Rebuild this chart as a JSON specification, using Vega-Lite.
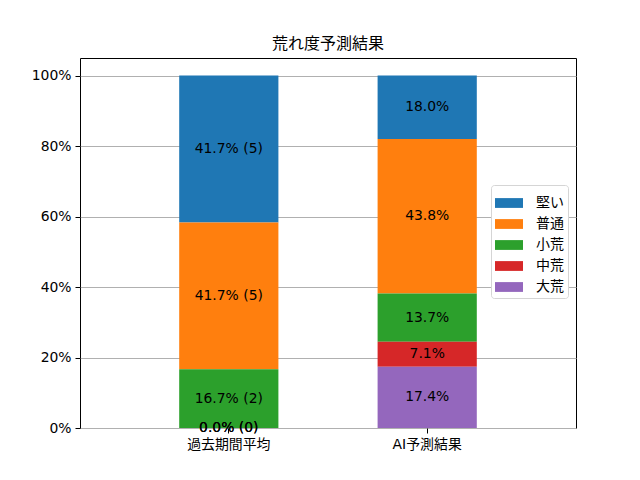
{
  "$schema": "https://vega.github.io/schema/vega-lite/v6.json",
  "width": 496,
  "height": 370,
  "autosize": "none",
  "padding": {"left": 80, "top": 58, "right": 64, "bottom": 52},
  "title": {
    "text": "荒れ度予測結果",
    "font": "Noto Sans CJK JP",
    "fontSize": 16,
    "fontWeight": "normal",
    "color": "black",
    "offset": 6
  },
  "data": {
    "values": [
      {"period": "過去期間平均", "level": "堅い", "rank": 5, "pct": 41.666, "label": "41.7% (5)"},
      {"period": "過去期間平均", "level": "普通", "rank": 4, "pct": 41.667, "label": "41.7% (5)"},
      {"period": "過去期間平均", "level": "小荒", "rank": 3, "pct": 16.667, "label": "16.7% (2)"},
      {"period": "過去期間平均", "level": "中荒", "rank": 2, "pct": 0, "label": "0.0% (0)"},
      {"period": "過去期間平均", "level": "大荒", "rank": 1, "pct": 0, "label": "0.0% (0)"},
      {"period": "AI予測結果", "level": "堅い", "rank": 5, "pct": 18.0, "label": "18.0%"},
      {"period": "AI予測結果", "level": "普通", "rank": 4, "pct": 43.8, "label": "43.8%"},
      {"period": "AI予測結果", "level": "小荒", "rank": 3, "pct": 13.7, "label": "13.7%"},
      {"period": "AI予測結果", "level": "中荒", "rank": 2, "pct": 7.1, "label": "7.1%"},
      {"period": "AI予測結果", "level": "大荒", "rank": 1, "pct": 17.4, "label": "17.4%"}
    ]
  },
  "encoding": {
    "x": {
      "field": "period",
      "type": "nominal",
      "sort": ["過去期間平均", "AI予測結果"],
      "scale": {"paddingInner": 0.5, "paddingOuter": 0.5},
      "axis": {"title": null, "labelAngle": 0, "grid": false}
    }
  },
  "layer": [
    {
      "mark": {"type": "bar"},
      "encoding": {
        "y": {
          "field": "pct",
          "type": "quantitative",
          "stack": "zero",
          "scale": {"domain": [0, 105], "nice": false},
          "axis": {
            "title": null,
            "values": [0, 20, 40, 60, 80, 100],
            "labelExpr": "datum.value + '%'",
            "grid": true
          }
        },
        "color": {
          "field": "level",
          "type": "nominal",
          "scale": {
            "domain": ["堅い", "普通", "小荒", "中荒", "大荒"],
            "range": ["#1f77b4", "#ff7f0e", "#2ca02c", "#d62728", "#9467bd"]
          },
          "legend": {
            "title": null,
            "orient": "none",
            "legendX": 411,
            "legendY": 127,
            "symbolType": "M-1,-0.35H1V0.35H-1Z",
            "symbolSize": 784,
            "symbolStrokeWidth": 0,
            "symbolOpacity": 1,
            "labelFont": "Noto Sans CJK JP",
            "labelFontSize": 14,
            "labelColor": "black",
            "labelOffset": 13,
            "rowPadding": -6,
            "padding": 4,
            "strokeColor": "#d5d5d5",
            "fillColor": "white",
            "cornerRadius": 3
          }
        },
        "order": {"field": "rank", "type": "quantitative"}
      }
    },
    {
      "transform": [
        {"stack": "pct", "groupby": ["period"], "sort": [{"field": "rank"}], "as": ["y0", "y1"]},
        {"calculate": "(datum.y0 + datum.y1) / 2", "as": "mid"}
      ],
      "mark": {"type": "text", "font": "DejaVu Sans, Noto Sans CJK JP", "fontSize": 13.9, "color": "black"},
      "encoding": {
        "y": {"field": "mid", "type": "quantitative"},
        "text": {"field": "label"}
      }
    }
  ],
  "config": {
    "view": {"stroke": "black", "strokeWidth": 1},
    "axis": {
      "domain": false,
      "labelFont": "DejaVu Sans, Noto Sans CJK JP",
      "labelFontSize": 13.9,
      "labelColor": "black",
      "tickColor": "black",
      "tickSize": 5,
      "tickWidth": 1,
      "labelPadding": 4,
      "gridColor": "#b0b0b0",
      "gridWidth": 1
    }
  }
}
